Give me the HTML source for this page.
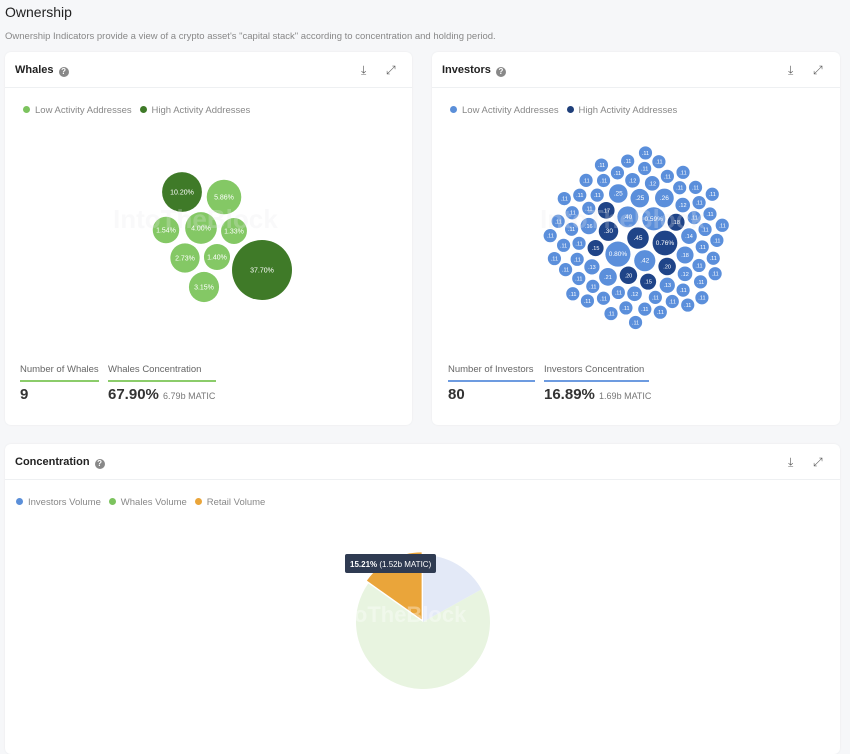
<!DOCTYPE html>
<html><head><meta charset="utf-8"><style>
*{box-sizing:border-box;margin:0;padding:0}
body{width:850px;height:742px;background:#f6f7f9;font-family:"Liberation Sans",sans-serif;position:relative;overflow:hidden;color:#222}
.abs{position:absolute}
.card{position:absolute;background:#fff;border-radius:6px;box-shadow:0 0 2px rgba(0,0,0,.06)}
.hdr{position:absolute;left:0;right:0;top:0;height:36px;border-bottom:1px solid #eef0f2}
.ttl{position:absolute;left:10px;top:12px;font-size:11px;font-weight:bold;color:#222}
.q{display:inline-block;width:10px;height:10px;border-radius:50%;background:#888;color:#fff;font-size:8px;text-align:center;line-height:10px;margin-left:5px;vertical-align:-1px}
.ic{position:absolute;top:11px;font-size:12px;color:#666}
.leg{position:absolute;top:53px;font-size:9.5px;color:#888;white-space:nowrap}
.dot{display:inline-block;width:7px;height:7px;border-radius:50%;margin-right:5px;vertical-align:0}
.sl{position:absolute;top:312px;font-size:9.5px;color:#666;padding-bottom:5px}
.sv{position:absolute;top:334px;font-size:15px;font-weight:bold;color:#333}
.sv small{font-size:9px;font-weight:normal;color:#777}
</style></head><body>
<div class="abs" style="left:5px;top:4px;font-size:14px;color:#222">Ownership</div>
<div class="abs" style="left:5px;top:31px;font-size:9.5px;color:#888">Ownership Indicators provide a view of a crypto asset's "capital stack" according to concentration and holding period.</div>

<div class="card" style="left:5px;top:52px;width:407px;height:373px">
 <div class="hdr"><div class="ttl">Whales<span class="q">?</span></div>
 <div class="ic" style="left:356px">⤓</div><div class="ic" style="left:381px">⤢</div></div>
 <div class="leg" style="left:18px"><span class="dot" style="background:#7cc35e"></span>Low Activity Addresses &nbsp;&nbsp;<span class="dot" style="background:#3f7a28"></span>High Activity Addresses</div>
 <svg id="wsvg" class="abs" style="left:0;top:0" width="407" height="300"></svg>
 <div class="sl" style="left:15px;width:79px;border-bottom:2px solid #8bcc6a">Number of Whales</div>
 <div class="sl" style="left:103px;width:108px;border-bottom:2px solid #8bcc6a">Whales Concentration</div>
 <div class="sv" style="left:15px">9</div>
 <div class="sv" style="left:103px">67.90% <small>6.79b MATIC</small></div>
</div>

<div class="card" style="left:432px;top:52px;width:408px;height:373px">
 <div class="hdr"><div class="ttl">Investors<span class="q">?</span></div>
 <div class="ic" style="left:356px">⤓</div><div class="ic" style="left:381px">⤢</div></div>
 <div class="leg" style="left:18px"><span class="dot" style="background:#5b8fd9"></span>Low Activity Addresses &nbsp;&nbsp;<span class="dot" style="background:#1f3f7a"></span>High Activity Addresses</div>
 <svg id="isvg" class="abs" style="left:0;top:0" width="408" height="300"></svg>
 <div class="sl" style="left:16px;width:87px;border-bottom:2px solid #6d9be0">Number of Investors</div>
 <div class="sl" style="left:112px;width:105px;border-bottom:2px solid #6d9be0">Investors Concentration</div>
 <div class="sv" style="left:16px">80</div>
 <div class="sv" style="left:112px">16.89% <small>1.69b MATIC</small></div>
</div>

<div class="card" style="left:5px;top:444px;width:835px;height:310px">
 <div class="hdr"><div class="ttl">Concentration<span class="q">?</span></div>
 <div class="ic" style="left:783px">⤓</div><div class="ic" style="left:808px">⤢</div></div>
 <div class="leg" style="left:11px;top:53px"><span class="dot" style="background:#5b8fd9"></span>Investors Volume &nbsp;&nbsp;<span class="dot" style="background:#7cc35e"></span>Whales Volume &nbsp;&nbsp;<span class="dot" style="background:#eaa53a"></span>Retail Volume</div>
 <svg id="psvg" class="abs" style="left:0;top:0" width="835" height="300"></svg>
</div>

<script>
const NS="http://www.w3.org/2000/svg";
function mk(p,t,a){const e=document.createElementNS(NS,t);for(const k in a)e.setAttribute(k,a[k]);p.appendChild(e);return e;}
// Whales
const whaleValues=[10.20,5.86,1.54,4.00,1.33,2.73,1.40,37.70,3.15];
const whaleHigh=[1,0,0,0,0,0,0,1,0];
const whaleLayout=[[177,140],[219,145],[161,178],[196,176],[229,179],[180,206],[212,205],[257,218],[199,235]];
const ws=document.getElementById('wsvg');
const wmax=Math.max(...whaleValues);
function wr(v){return 9+21*Math.sqrt(v/wmax);}
whaleValues.forEach((v,i)=>{
 const c=mk(ws,'circle',{cx:whaleLayout[i][0],cy:whaleLayout[i][1],r:wr(v),fill:whaleHigh[i]?'#3f7a28':'#84c865'});
 
 
 const t=mk(ws,'text',{x:whaleLayout[i][0],y:whaleLayout[i][1]+2.5,'text-anchor':'middle','font-size':7,fill:'#fff','font-family':'Liberation Sans'});
 t.textContent=v.toFixed(2)+'%';
});
mk(ws,'text',{x:108,y:176,'font-size':26,'font-weight':'bold',fill:'#e8e8ec','fill-opacity':0.25,'font-family':'Liberation Sans'}).textContent='IntoTheBlock';
// Investors
const invValues=[0.45,0.42,0.40,0.80,0.59,0.76,0.30,0.25,0.20,0.20,0.18,0.17,0.15,0.15,0.26,0.25,0.21,0.18,0.16,0.14,0.13,0.13,0.12,0.12,0.12,0.12,0.12,0.11,0.11,0.11,0.11,0.11,0.11,0.11,0.11,0.11,0.11,0.11,0.11,0.11,0.11,0.11,0.11,0.11,0.11,0.11,0.11,0.11,0.11,0.11,0.11,0.11,0.11,0.11,0.11,0.11,0.11,0.11,0.11,0.11,0.11,0.11,0.11,0.11,0.11,0.11,0.11,0.11,0.11,0.11,0.11,0.11,0.11,0.11,0.11,0.11,0.11,0.11,0.11,0.11];
const invHigh=[1,0,0,0,0,1,1,0,1,1,1,1,1,1,0,0,0,0,0,0,0,0,0,0,0,0,0,0,0,0,0,0,0,0,0,0,0,0,0,0,0,0,0,0,0,0,0,0,0,0,0,0,0,0,0,0,0,0,0,0,0,0,0,0,0,0,0,0,0,0,0,0,0,0,0,0,0,0,0,0];
const is=document.getElementById('isvg');
const cx=206,cy=186;
const placed=[];
function ir(v){return 6.6+6*Math.sqrt(Math.max(0,v-0.11)/0.7);}
invValues.forEach((v,i)=>{
 const r=ir(v);
 let x=cx,y=cy;
 if(placed.length){
  for(let s=0;s<40000;s++){const a=s*0.15,d=s*0.006;x=cx+d*Math.cos(a);y=cy+d*Math.sin(a);
   if(placed.every(p=>Math.hypot(p[0]-x,p[1]-y)>=p[2]+r+2.3))break;}
 }
 placed.push([x,y,r]);
 const c=mk(is,'circle',{cx:x,cy:y,r:r,fill:invHigh[i]?'#1f4488':'#5b8fdb'});
 
 
 const t=mk(is,'text',{x:x,y:y+2,'text-anchor':'middle','font-size':r>9?6.5:5.5,fill:'#fff','font-family':'Liberation Sans'});
 t.textContent=v<0.5?String(v.toFixed(2)).slice(1):v.toFixed(2)+'%';
});
mk(is,'text',{x:108,y:176,'font-size':26,'font-weight':'bold',fill:'#e8e8ec','fill-opacity':0.25,'font-family':'Liberation Sans'}).textContent='IntoTheBlock';
// Pie
const pieLabels=['Investors Volume','Whales Volume','Retail Volume'];
const pieValues=[16.89,67.90,15.21];
const pieColors=['#e3e9f7','#e8f4e0','#eaa53a'];
const ps=document.getElementById('psvg');
const pcx=418,pcy=178,pr=67;
const tot=pieValues.reduce((a,b)=>a+b,0);
let ang=0;
pieValues.forEach((v,i)=>{
 const a0=ang,a1=ang+v/tot*2*Math.PI;ang=a1;
 let ox=0,oy=0;if(i==2){const m=(a0+a1)/2;ox=3*Math.sin(m);oy=-3*Math.cos(m);}
 const p=(a)=>[pcx+ox+pr*Math.sin(a),pcy+oy-pr*Math.cos(a)];
 const s=p(a0),e=p(a1);
 const path=mk(ps,'path',{d:`M${pcx+ox},${pcy+oy}L${s[0]},${s[1]}A${pr},${pr} 0 ${a1-a0>Math.PI?1:0} 1 ${e[0]},${e[1]}Z`,fill:pieColors[i]});
 
 
});
mk(ps,'text',{x:322,y:178,'font-size':22,'font-weight':'bold',fill:'#ffffff','fill-opacity':0.35,'font-family':'Liberation Sans'}).textContent='IntoTheBlock';
const tip=mk(ps,'g',{});


mk(tip,'rect',{x:340,y:110,width:91,height:19,rx:2,fill:'#2f3b52'});
const tt=mk(tip,'text',{x:345,y:123,'font-size':8,fill:'#fff','font-family':'Liberation Sans'});
tt.innerHTML='<tspan font-weight="bold">'+pieValues[2].toFixed(2)+'%</tspan> (1.52b MATIC)';
</script>
</body></html>
